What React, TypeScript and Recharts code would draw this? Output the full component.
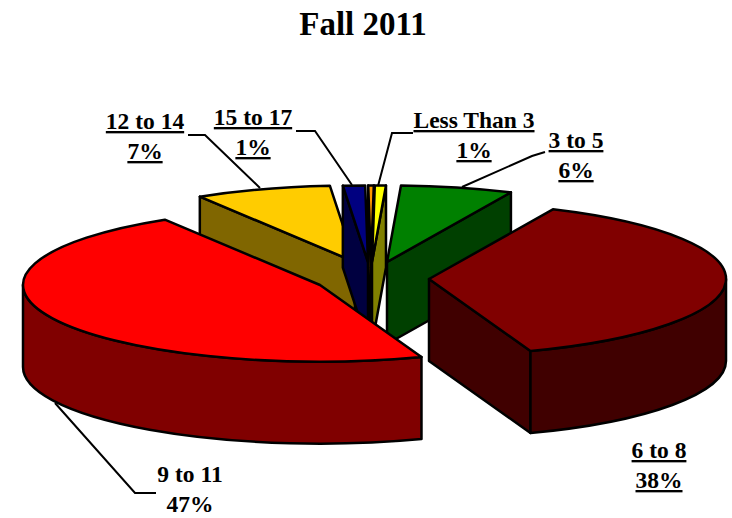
import { Pie, PieChart } from 'recharts';

// order starts at the back left so the slices stack correctly when painted
const categories = ['12 to 14', '15 to 17', '18 and Over', 'Less Than 3', '3 to 5', '6 to 8', '9 to 11'];
const values = [7.4, 1.2, 0.3, 0.6, 6.1, 37.6, 46.8];
const topColors = ['#FFCC00', '#000080', '#FF9900', '#FFFF00', '#008000', '#800000', '#FF0000'];
const wallColors = ['#806600', '#000040', '#804D00', '#808000', '#004000', '#400000', '#800000'];

// how far each slice is pulled out of the pie, in px
const explode = [[-16, 0], [-3, 0], [0, 0], [1, 0], [16, 0], [58, 17], [-51, 23]];

const CX = 371;
const CY = 262;
const RADIUS = 297;
const SQUASH = 0.258;
const DEPTH = 82;
const LINE_GAP = 30;
const FONT = '"Liberation Serif", "Times New Roman", serif';

// label block centre, first baseline, underline, leader line
const labelLayout: Record<string, { x: number; y: number; underline: boolean; leader?: string }> = {
  '12 to 14': { x: 145, y: 129, underline: true, leader: '188,135 205,135 260,188' },
  '15 to 17': { x: 253, y: 125, underline: true, leader: '296,131 315,131 352,185' },
  'Less Than 3': { x: 474, y: 128, underline: true, leader: '413,133 392,133 378,186' },
  '3 to 5': { x: 576, y: 148, underline: true, leader: '545,152 532,156 462,187' },
  '6 to 8': { x: 659, y: 458, underline: true },
  '9 to 11': { x: 190, y: 482, underline: false, leader: '156,493 135,493 55,403' },
};

const data = categories.map((name, i) => ({
  name,
  value: values[i],
  fill: topColors[i],
  wall: wallColors[i],
  ox: explode[i][0],
  oy: explode[i][1],
}));

function Slice3D(props: any) {
  const { cx, cy, outerRadius: r, startAngle, endAngle, fill, wall, ox, oy } = props;
  const t0 = 90 - startAngle;
  const t1 = 90 - endAngle;
  const ax = cx + ox;
  const ay = cy + oy;
  const ry = r * SQUASH;
  const pt = (deg: number, drop = 0): [number, number] => {
    const a = (deg * Math.PI) / 180;
    return [ax + r * Math.sin(a), ay - ry * Math.cos(a) + drop];
  };
  const arc = (to: [number, number], large: boolean, sweep: number) =>
    `A${r},${ry} 0 ${large ? 1 : 0} ${sweep} ${to[0]},${to[1]}`;
  const edgeWall = (deg: number) => {
    const p = pt(deg);
    return `M${ax},${ay} L${p[0]},${p[1]} L${p[0]},${p[1] + DEPTH} L${ax},${ay + DEPTH} Z`;
  };
  const sin = (deg: number) => Math.sin((deg * Math.PI) / 180);

  const from = Math.max(t0, 90);
  const to = Math.min(t1, 270);
  const common = { stroke: '#000', strokeWidth: 2.5, strokeLinejoin: 'round' as const };
  const p0 = pt(t0);
  const p1 = pt(t1);

  return (
    <g>
      {sin(t0) < 0 && <path d={edgeWall(t0)} fill={wall} {...common} />}
      {sin(t1) > 0 && <path d={edgeWall(t1)} fill={wall} {...common} />}
      {to > from && (
        <path
          d={`M${pt(from)[0]},${pt(from)[1]} ${arc(pt(to), to - from > 180, 1)} L${pt(to, DEPTH)[0]},${pt(to, DEPTH)[1]} ${arc(pt(from, DEPTH), to - from > 180, 0)} Z`}
          fill={wall}
          {...common}
        />
      )}
      <path
        d={`M${ax},${ay} L${p0[0]},${p0[1]} ${arc(p1, t1 - t0 > 180, 1)} Z`}
        fill={fill}
        {...common}
      />
    </g>
  );
}

function SliceLabel(props: any) {
  const layout = labelLayout[props.name];
  if (!layout) return null;
  const style = {
    fontFamily: FONT,
    fontSize: 23.5,
    fontWeight: 700,
    textDecoration: layout.underline ? 'underline' : 'none',
  };
  return (
    <g>
      {layout.leader && <polyline points={layout.leader} fill="none" stroke="#000" strokeWidth={2} />}
      <text x={layout.x} y={layout.y} textAnchor="middle" fill="#000" style={style}>
        {props.name}
      </text>
      <text x={layout.x} y={layout.y + LINE_GAP} textAnchor="middle" fill="#000" style={style}>
        {`${Math.round(props.value)}%`}
      </text>
    </g>
  );
}

export default function App() {
  return (
    <div style={{ position: 'absolute', left: 0, top: 0, width: 732, height: 518, background: '#fff' }}>
      <div
        style={{
          position: 'absolute',
          left: 0,
          width: 726,
          top: 4,
          textAlign: 'center',
          fontFamily: FONT,
          fontSize: 33,
          fontWeight: 700,
          lineHeight: '40px',
        }}
      >
        Fall 2011
      </div>
      <PieChart width={732} height={518} margin={{ top: 0, right: 0, bottom: 0, left: 0 }}>
        <Pie
          data={data}
          dataKey="value"
          nameKey="name"
          cx={CX}
          cy={CY}
          innerRadius={0}
          outerRadius={RADIUS}
          startAngle={121.5}
          endAngle={-238.5}
          stroke="none"
          isAnimationActive={false}
          shape={Slice3D}
          activeShape={Slice3D}
          inactiveShape={Slice3D}
          label={SliceLabel}
          labelLine={false}
        />
      </PieChart>
    </div>
  );
}
